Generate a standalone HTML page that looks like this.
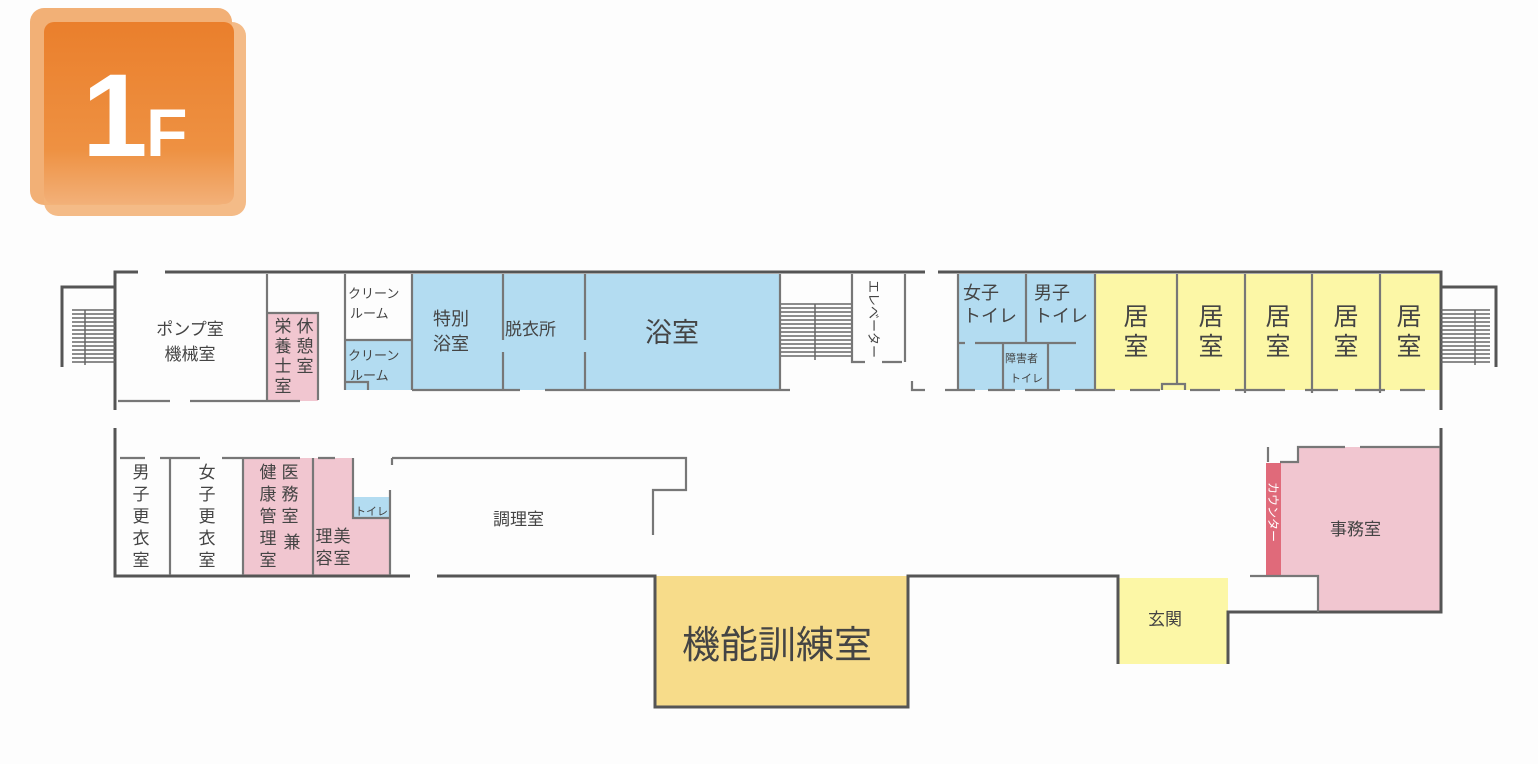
<!DOCTYPE html>
<html><head><meta charset="utf-8"><style>
html,body{margin:0;padding:0;background:#fdfdfd;}
svg{display:block}
text{font-family:"Liberation Sans","Noto Sans CJK JP",sans-serif;fill:#444;}
</style></head><body>
<svg width="1538" height="764" viewBox="0 0 1538 764" xmlns="http://www.w3.org/2000/svg">
<defs>
<linearGradient id="og" x1="0" y1="0" x2="0" y2="1">
<stop offset="0" stop-color="#ea7f2c"/><stop offset="0.7" stop-color="#ee9142"/><stop offset="1" stop-color="#f2b078"/></linearGradient>
</defs>
<rect x="30" y="8" width="202" height="197" rx="14" fill="#f0a25e" opacity="0.85"/>
<rect x="44" y="22" width="202" height="194" rx="14" fill="#f3b47a" opacity="0.9"/>
<rect x="44" y="22" width="190" height="182" rx="10" fill="url(#og)"/>
<text x="82" y="156" style="font-size:118px;font-weight:bold;fill:#fff;font-family:'Liberation Sans',sans-serif">1</text>
<text x="146" y="156" style="font-size:68px;font-weight:bold;fill:#fff;font-family:'Liberation Sans',sans-serif">F</text>

<rect x="268" y="313" width="50" height="88" fill="#f1c6d0"/>
<rect x="345" y="340" width="67" height="50" fill="#b3dcf1"/>
<rect x="412" y="274" width="368" height="116" fill="#b3dcf1"/>
<rect x="958" y="274" width="137" height="116" fill="#b3dcf1"/>
<rect x="1095" y="274" width="345" height="116" fill="#fcf7a6"/>
<rect x="243" y="458" width="110" height="117" fill="#f1c6d0"/>
<rect x="353" y="518" width="37" height="57" fill="#f1c6d0"/>
<rect x="353" y="497" width="37" height="22" fill="#b3dcf1"/>
<rect x="655" y="576" width="253" height="131" fill="#f7dc8a"/>
<rect x="1118" y="578" width="110" height="86" fill="#fcf7a6"/>
<path d="M1298 447 H1440 V612 H1318 V576 H1281 V462 H1298 Z" fill="#f1c6d0"/>
<rect x="1266" y="463" width="15" height="113" fill="#e06a7a"/>

<g stroke="#555" stroke-width="3" fill="none">
<path d="M115 410 V272 H138 M165 272 H925 M938 272 H1441 V410"/>
<path d="M1441 428 V612 H1228 V664"/>
<path d="M115 428 V576 H410 M437 576 H655 V707 H908 V576 H1118 V664"/>
<path d="M115 287 H62 V367"/>
<path d="M1441 287 H1496 V367"/>
</g>
<g stroke="#666" stroke-width="1.5" fill="none">
<path d="M72 310 H115 M72 314 H115 M72 318 H115 M72 322 H115 M72 326 H115 M72 330 H115 M72 334 H115 M72 338 H115 M72 342 H115 M72 346 H115 M72 350 H115 M72 354 H115 M72 358 H115 M72 362 H115 M85 310 V365"/>
<path d="M1441 310 H1490 M1441 314 H1490 M1441 318 H1490 M1441 322 H1490 M1441 326 H1490 M1441 330 H1490 M1441 334 H1490 M1441 338 H1490 M1441 342 H1490 M1441 346 H1490 M1441 350 H1490 M1441 354 H1490 M1441 358 H1490 M1441 362 H1490 M1475 310 V365"/>
<path d="M780 304 H852 M780 308 H852 M780 312 H852 M780 316 H852 M780 320 H852 M780 324 H852 M780 328 H852 M780 332 H852 M780 336 H852 M780 340 H852 M780 344 H852 M780 348 H852 M780 352 H852 M780 356 H852 M815 304 V360"/>
</g>
<g stroke="#777" stroke-width="2.2" fill="none">
<path d="M118 401 H170 M190 401 H300"/>
<path d="M267 274 V400 M268 313 H318 V400"/>
<path d="M345 274 V340 M345 340 H412 M345 340 V390 M345 382 H368 V390"/>
<path d="M412 274 V390 M503 274 V340 M503 352 V390 M585 274 V340 M585 352 V390 M780 274 V390"/>
<path d="M412 390 H520 M545 390 H740 M740 390 H790"/>
<path d="M852 274 V362 H865 M882 362 H902 M905 274 V362"/>
<path d="M912 381 V390 H925"/>
<path d="M958 274 V390 M1026 274 V343 M958 343 H965 M975 343 H1076 M1003 343 V390 M1048 343 V390 M1095 274 V390"/>
<path d="M945 390 H975 M988 390 H1015 M1025 390 H1060 M1075 390 H1115 M1130 390 H1160 M1162 390 V384 H1185 V390 M1190 390 H1220 M1235 390 H1285 M1305 390 H1338 M1355 390 H1385 M1400 390 H1425"/>
<path d="M1177 274 V384 M1245 274 V393 M1312 274 V393 M1380 274 V393"/>
<path d="M120 458 H145 M160 458 H200 M222 458 H300 M318 458 H335 M392 458 V465 M392 458 H686 V490 H653 V535"/>
<path d="M170 458 V575 M243 458 V575 M313 458 V575 M353 458 V518 H390 M390 490 V575"/>
<path d="M1250 576 H1318 V612 M1268 447 V462 M1280 462 H1298 V447 H1345 M1360 447 H1440"/>
</g>

<g style="font-size:17px">
<text x="190" y="335" text-anchor="middle">ポンプ室</text>
<text x="190" y="360" text-anchor="middle">機械室</text>
<text x="493" y="525">調理室</text>
<text x="1330" y="535">事務室</text>
<text x="1148" y="625">玄関</text>
<text x="505" y="335">脱衣所</text>
</g>
<g style="font-size:18px">
<text x="433" y="325">特別</text>
<text x="433" y="350">浴室</text>
<text x="963" y="299">女子</text>
<text x="963" y="322">トイレ</text>
<text x="1034" y="299">男子</text>
<text x="1034" y="322">トイレ</text>
</g>
<g style="font-size:13px">
<text x="348" y="298">クリーン</text>
<text x="350" y="318">ルーム</text>
<text x="348" y="360">クリーン</text>
<text x="350" y="380">ルーム</text>
<text x="355" y="515" style="font-size:11px">トイレ</text>
<text x="1005" y="362" style="font-size:11px">障害者</text>
<text x="1010" y="382" style="font-size:11px">トイレ</text>
</g>
<text x="645" y="342" style="font-size:27px">浴室</text>
<text x="682" y="658" style="font-size:38px">機能訓練室</text>
<g style="font-size:25px" text-anchor="middle">
<text x="1136" y="325">居</text><text x="1136" y="355">室</text>
<text x="1211" y="325">居</text><text x="1211" y="355">室</text>
<text x="1278" y="325">居</text><text x="1278" y="355">室</text>
<text x="1346" y="325">居</text><text x="1346" y="355">室</text>
<text x="1409" y="325">居</text><text x="1409" y="355">室</text>
</g>
<g style="font-size:17px" text-anchor="middle">
<text x="305" y="332">休</text><text x="305" y="352">憩</text><text x="305" y="372">室</text>
<text x="283" y="332">栄</text><text x="283" y="352">養</text><text x="283" y="372">士</text><text x="283" y="392">室</text>
<text x="141" y="478">男</text><text x="141" y="500">子</text><text x="141" y="522">更</text><text x="141" y="544">衣</text><text x="141" y="566">室</text>
<text x="207" y="478">女</text><text x="207" y="500">子</text><text x="207" y="522">更</text><text x="207" y="544">衣</text><text x="207" y="566">室</text>
<text x="290" y="478">医</text><text x="290" y="500">務</text><text x="290" y="522">室</text><text x="292" y="548">兼</text>
<text x="268" y="478">健</text><text x="268" y="500">康</text><text x="268" y="522">管</text><text x="268" y="544">理</text><text x="268" y="566">室</text>
<text x="342" y="542">美</text><text x="342" y="564">室</text>
<text x="324" y="542">理</text><text x="324" y="564">容</text>
</g>
<text transform="translate(869,280) rotate(90)" style="font-size:13px">エレベーター</text>
<text transform="translate(1269,482) rotate(90)" style="font-size:12px;fill:#fff">カウンター</text>
</svg>
</body></html>
